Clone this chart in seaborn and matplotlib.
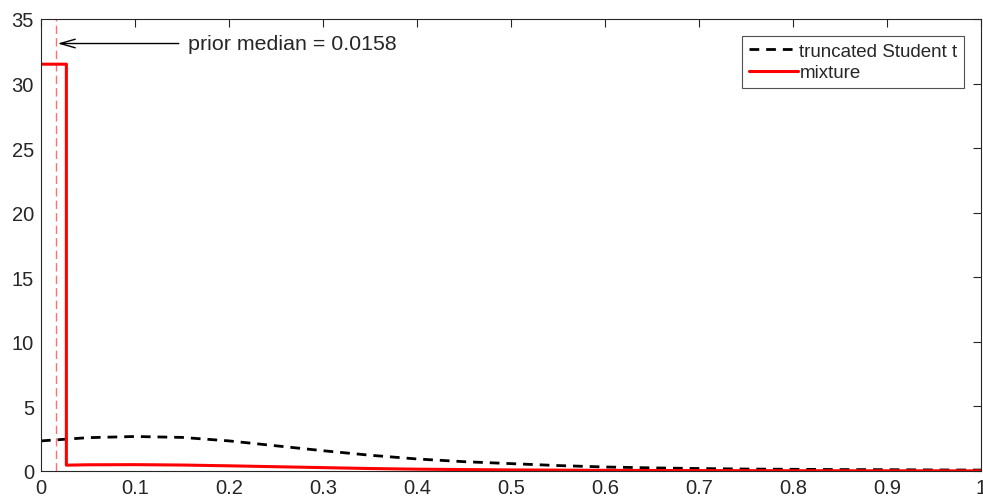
import matplotlib
matplotlib.use("Agg")
import matplotlib.pyplot as plt
import seaborn as sns
import pandas as pd

# truncated Student t density
t_x = [0.0, 0.05, 0.1, 0.15, 0.2, 0.25, 0.3, 0.35, 0.4, 0.45, 0.5,
       0.55, 0.6, 0.65, 0.7, 0.75, 0.8, 0.85, 0.9, 0.95, 1.0]
t_y = [2.33, 2.58, 2.67, 2.6, 2.33, 1.95, 1.57, 1.22, 0.93, 0.72, 0.57,
       0.42, 0.31, 0.24, 0.19, 0.15, 0.13, 0.11, 0.1, 0.08, 0.07]

# mixture density (point-mass block + scaled Student t)
mix_x = [0.0, 0.027, 0.027, 0.05, 0.1, 0.15, 0.2, 0.25, 0.3, 0.35, 0.4,
         0.45, 0.5, 0.6, 0.7, 0.8, 0.9, 1.0]
mix_y = [31.5, 31.5, 0.45, 0.48, 0.49, 0.46, 0.4, 0.33, 0.26, 0.19, 0.14,
         0.11, 0.08, 0.05, 0.03, 0.02, 0.015, 0.01]

prior_median = 0.0158
label_t = "truncated Student t"
label_mix = "mixture"
x_ticks = [0, 0.1, 0.2, 0.3, 0.4, 0.5, 0.6, 0.7, 0.8, 0.9, 1]
x_ticklabels = ["0", "0.1", "0.2", "0.3", "0.4", "0.5", "0.6", "0.7", "0.8", "0.9", "1"]
y_ticks = [0, 5, 10, 15, 20, 25, 30, 35]

sns.set_style("white")
plt.rcParams["font.family"] = ["Liberation Sans", "DejaVu Sans"]

fig = plt.figure(figsize=(9.83, 5.02), dpi=100)
ax = fig.add_axes([0.0417, 0.0598, 0.9563, 0.9004])

df_t = pd.DataFrame({"x": t_x, "y": t_y})
df_mix = pd.DataFrame({"x": mix_x, "y": mix_y})

sns.lineplot(data=df_t, x="x", y="y", ax=ax, color="black", lw=2,
             linestyle=(0, (3.5, 2.5)), sort=False, estimator=None,
             label=label_t)
sns.lineplot(data=df_mix, x="x", y="y", ax=ax, color="red", lw=2.2,
             sort=False, estimator=None, label=label_mix)

ax.axvline(prior_median, color="#ff7070", lw=1, linestyle=(0, (6, 3)), zorder=1)

ax.annotate("prior median = 0.0158", xy=(prior_median + 0.002, 33.1),
            xytext=(0.156, 33.1), fontsize=15.4, va="center", ha="left",
            arrowprops=dict(arrowstyle="->,head_length=0.7,head_width=0.2",
                            color="black", lw=1.0, shrinkA=4, shrinkB=0))

ax.set_xlim(0, 1)
ax.set_ylim(0, 35)
ax.set_xticks(x_ticks)
ax.set_xticklabels(x_ticklabels)
ax.set_yticks(y_ticks)
ax.set_xlabel("")
ax.set_ylabel("")

for s in ax.spines.values():
    s.set_visible(True)
    s.set_color("#262626")
    s.set_linewidth(0.8)
ax.tick_params(direction="in", length=6, width=0.8, color="#262626",
               top=True, right=True, labelsize=14.5, labelcolor="#262626", pad=5)

leg = ax.legend(loc="upper right", fontsize=13.5, frameon=True, fancybox=False,
                edgecolor="#262626", handlelength=2.6, handletextpad=0.1,
                borderaxespad=0.9, labelspacing=0.25, borderpad=0.35)
leg.get_frame().set_linewidth(0.8)

fig.savefig("out.png", dpi=100)
